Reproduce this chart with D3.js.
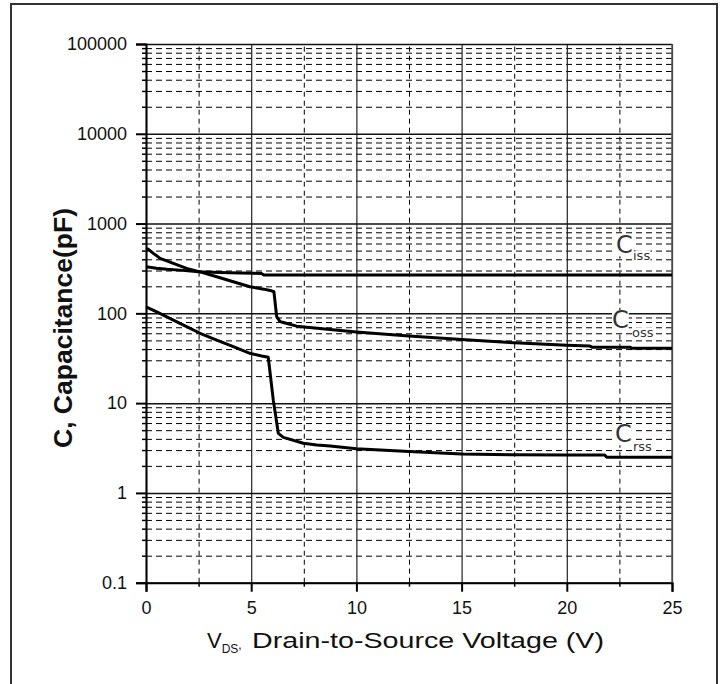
<!DOCTYPE html>
<html><head><meta charset="utf-8">
<script src="https://cdn.jsdelivr.net/npm/d3@7"></script>
<style>body{margin:0;background:#fff} svg{display:block}</style>
</head><body>
<svg id="chart" width="725" height="684"></svg>
<script>
// ---- data ----
const xTicks = [0, 5, 10, 15, 20, 25];
const xMinorTicks = [2.5, 7.5, 12.5, 17.5, 22.5];
const yTicks = [0.1, 1, 10, 100, 1000, 10000, 100000];
const yTickLabels = ["0.1", "1", "10", "100", "1000", "10000", "100000"];

const cissV = [0, 0.5, 1, 1.6, 2.5, 3.5, 4.5, 5.1, 5.5, 5.6, 10, 15, 20, 25];
const cissC = [330, 318, 310, 303, 290, 285, 281, 279, 277, 267, 267, 267, 267, 267];

const cossV = [0, 0.1, 0.35, 0.67, 1.3, 1.93, 2.57, 3.36, 4.94, 5.6, 5.9, 6.08, 6.21, 6.37, 6.53, 7.16, 8.75, 10, 12.5, 15, 17.5, 20, 21.1, 21.2, 23.0, 23.1, 25];
const cossC = [516, 520, 466, 410, 360, 317, 290, 256, 198, 186, 180, 174, 92, 81, 79, 72, 66, 62, 56, 51, 47, 44, 43.2, 42, 42, 40.8, 40.8];

const crssV = [0, 0.51, 1.3, 1.93, 2.57, 3.36, 4.15, 4.94, 5.5, 5.81, 6.05, 6.29, 6.53, 7.48, 8.11, 8.75, 10, 12.5, 15, 17.5, 20, 21.8, 21.9, 25];
const crssC = [118, 104, 84, 71, 60, 50.4, 42.5, 35.9, 33.5, 32.4, 10.8, 4.6, 4.16, 3.57, 3.41, 3.33, 3.1, 2.9, 2.72, 2.66, 2.64, 2.64, 2.49, 2.49];

const seriesNames = ["iss", "oss", "rss"];

// ---- layout ----
const svg = d3.select("#chart");
const L = 146, R = 672, T = 44, B = 582.7;
const x = d3.scaleLinear().domain([0, 25]).range([L, R]);
const y = d3.scaleLog().domain([0.1, 100000]).range([B, T]);

// outer frame
svg.append("rect").attr("x", 11).attr("y", 4).attr("width", 706).attr("height", 700)
  .attr("fill", "#fff").attr("stroke", "#333").attr("stroke-width", 2);

// minor y values
const yMinor = [];
yTicks.slice(0, -1).forEach(d => { for (let m = 2; m <= 9; m++) yMinor.push(d * m); });

// horizontal dashed minor grid
const gMinorY = svg.append("g").attr("transform", `translate(${L},0)`)
  .call(d3.axisLeft(y).tickValues(yMinor).tickSize(-(R - L)).tickFormat(""));
gMinorY.select(".domain").remove();
gMinorY.selectAll("line").attr("stroke", "#000").attr("stroke-width", 1).attr("stroke-dasharray", "6,4");
// small left ticks for minor values
const gMinorYt = svg.append("g").attr("transform", `translate(${L},0)`)
  .call(d3.axisLeft(y).tickValues(yMinor).tickSize(4).tickFormat(""));
gMinorYt.select(".domain").remove();
gMinorYt.selectAll("line").attr("stroke", "#000").attr("stroke-width", 1.5);

// vertical dashed minor grid
const gMinorX = svg.append("g").attr("transform", `translate(0,${B})`)
  .call(d3.axisBottom(x).tickValues(xMinorTicks).tickSize(-(B - T)).tickFormat(""));
gMinorX.select(".domain").remove();
gMinorX.selectAll("line").attr("stroke", "#000").attr("stroke-width", 1).attr("stroke-dasharray", "5,4");
const gMinorXt = svg.append("g").attr("transform", `translate(0,${B})`)
  .call(d3.axisBottom(x).tickValues(xMinorTicks).tickSize(4).tickFormat(""));
gMinorXt.select(".domain").remove();
gMinorXt.selectAll("line").attr("stroke", "#000").attr("stroke-width", 1.5);

// major vertical grid (solid)
const gMajX = svg.append("g").attr("transform", `translate(0,${B})`)
  .call(d3.axisBottom(x).tickValues(xTicks).tickSize(-(B - T)).tickFormat(""));
gMajX.select(".domain").remove();
gMajX.selectAll("line").attr("stroke", "#222").attr("stroke-width", 1.2);

// major horizontal grid (solid)
const gMajY = svg.append("g").attr("transform", `translate(${L},0)`)
  .call(d3.axisLeft(y).tickValues(yTicks).tickSize(-(R - L)).tickFormat(""));
gMajY.select(".domain").remove();
gMajY.selectAll("line").attr("stroke", "#111").attr("stroke-width", 1.5);

// y axis with labels
const gy = svg.append("g").attr("transform", `translate(${L},0)`)
  .call(d3.axisLeft(y).tickValues(yTicks).tickSize(10).tickPadding(9)
    .tickFormat((d, i) => yTickLabels[i]));
gy.select(".domain").attr("stroke", "#000").attr("stroke-width", 2);
gy.selectAll("line").attr("stroke", "#000").attr("stroke-width", 2);
gy.selectAll("text").attr("font-family", "Liberation Sans, Arial, sans-serif")
  .attr("font-size", 18).attr("fill", "#111");

// x axis with labels
const gx = svg.append("g").attr("transform", `translate(0,${B})`)
  .call(d3.axisBottom(x).tickValues(xTicks).tickSize(9).tickPadding(10).tickFormat(d3.format("d")));
gx.select(".domain").attr("stroke", "#000").attr("stroke-width", 2);
gx.selectAll("line").attr("stroke", "#000").attr("stroke-width", 2);
gx.selectAll("text").attr("font-family", "Liberation Sans, Arial, sans-serif")
  .attr("font-size", 18).attr("fill", "#111");

// right edge
svg.append("line").attr("x1", R).attr("x2", R).attr("y1", T).attr("y2", B)
  .attr("stroke", "#555").attr("stroke-width", 1.5);

// curves
const line = d3.line().x(d => x(d[0])).y(d => y(d[1]));
const series = [
  d3.zip(cissV, cissC),
  d3.zip(cossV, cossC),
  d3.zip(crssV, crssC)
];
svg.append("g").selectAll("path").data(series).join("path")
  .attr("d", line).attr("fill", "none").attr("stroke", "#000")
  .attr("stroke-width", 3).attr("stroke-linejoin", "round");

// series labels (C with subscript)
const labelPos = [
  {cx: 616, cy: 253, sx: 633, sy: 260},
  {cx: 612, cy: 328, sx: 632, sy: 337},
  {cx: 615, cy: 442, sx: 633, sy: 451}
];
const gLab = svg.append("g");
function textWithBg(g, xx, yy, txt, size) {
  const bg = g.append("rect").attr("fill", "#fff");
  const t = g.append("text").attr("x", xx).attr("y", yy).text(txt)
    .attr("font-family", "DejaVu Sans, sans-serif")
    .attr("font-size", size).attr("fill", "#333");
  const b = t.node().getBBox();
  bg.attr("x", b.x).attr("y", b.y + b.height * 0.15).attr("width", b.width).attr("height", b.height * 0.75);
}
seriesNames.forEach((n, i) => {
  const p = labelPos[i];
  textWithBg(gLab, p.cx, p.cy, "C", 24);
  textWithBg(gLab, p.sx, p.sy, n, 13);
});

// axis titles
svg.append("text")
  .attr("transform", `translate(72,${328}) rotate(-90)`)
  .attr("text-anchor", "middle")
  .attr("font-family", "Liberation Sans, Arial, sans-serif")
  .attr("font-size", 26).attr("font-weight", "bold").attr("fill", "#111")
  .attr("textLength", 240).attr("lengthAdjust", "spacingAndGlyphs")
  .text("C, Capacitance(pF)");

const xt = svg.append("text").attr("y", 648)
  .attr("font-family", "Liberation Sans, Arial, sans-serif").attr("fill", "#111");
xt.append("tspan").attr("x", 207).attr("font-size", 22).text("V");
xt.append("tspan").attr("font-size", 12).attr("dy", 5).text("DS");
xt.append("tspan").attr("font-size", 12).attr("dy", -4).text(", ");
xt.append("tspan").attr("x", 252).attr("dy", -1).attr("font-size", 22)
  .attr("textLength", 352).attr("lengthAdjust", "spacingAndGlyphs")
  .text("Drain-to-Source Voltage (V)");
</script>
</body></html>
